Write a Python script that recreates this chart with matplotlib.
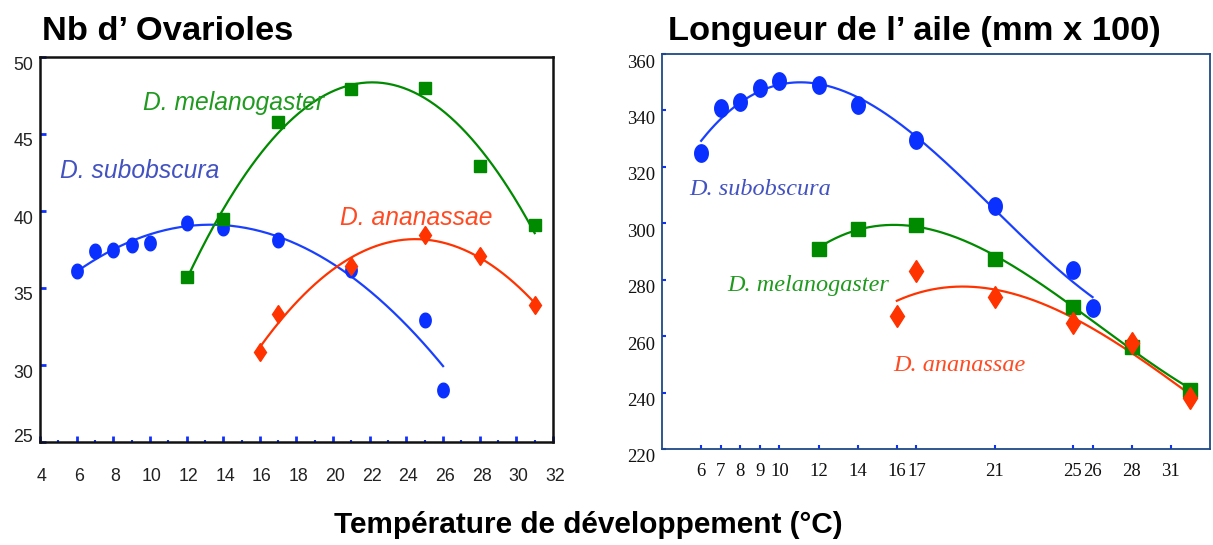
import numpy as np
import matplotlib
matplotlib.use("Agg")
import matplotlib.pyplot as plt
from matplotlib.path import Path
from matplotlib.transforms import ScaledTranslation

# ---------------- data ----------------
# Left panel: number of ovarioles
ov_sub_x = [6, 7, 8, 9, 10, 12, 14, 17, 21, 25, 26]
ov_sub_y = [36.1, 37.4, 37.5, 37.8, 37.9, 39.2, 38.9, 38.1, 36.2, 32.9, 28.35]
ov_mel_x = [12, 14, 17, 21, 25, 28, 31]
ov_mel_y = [35.7, 39.5, 45.8, 47.9, 48.0, 42.9, 39.1]
ov_ana_x = [16, 17, 21, 25, 28, 31]
ov_ana_y = [30.85, 33.3, 36.4, 38.45, 37.1, 33.9]

# Right panel: wing length (mm x 100)
wl_sub_x = [6, 7, 8, 9, 10, 12, 14, 17, 21, 25, 26]
wl_sub_y = [325, 341, 343, 348, 350.5, 349, 342, 329.5, 306, 283.5, 270]
wl_mel_x = [12, 14, 17, 21, 25, 28, 31]
wl_mel_y = [291, 298, 299.5, 287.5, 270.5, 256, 241]
wl_ana_x = [16, 17, 21, 25, 28, 31]
wl_ana_y = [267, 283, 274, 264.5, 257.5, 238]

left_xticks = list(range(4, 33, 2))
left_yticks = [25, 30, 35, 40, 45, 50]
right_xticks = [6, 7, 8, 9, 10, 12, 14, 16, 17, 21, 25, 26, 28, 30]
right_xticklabels = ["6", "7", "8", "9", "10", "12", "14", "16", "17", "21", "25", "26", "28", "31"]
right_yticks = [220, 240, 260, 280, 300, 320, 340, 360]

title_left = "Nb d\u2019 Ovarioles"
title_right = "Longueur de l\u2019 aile (mm x 100)"
xlabel = "Température de développement (°C)"
sp_sub = "D. subobscura"
sp_mel = "D. melanogaster"
sp_ana = "D. ananassae"

# ---------------- style ----------------
SANS = ["Liberation Sans", "DejaVu Sans"]
SERIF = ["Liberation Serif", "DejaVu Serif"]
BLUE_M = "#0a30ff"
BLUE_L = "#1a40ff"
GREEN = "#008a00"
RED = "#ff3300"
TXT_BLUE = "#4252c0"
TXT_GREEN = "#1f9a1f"
TXT_RED = "#ff4a22"

t = np.linspace(0, 2 * np.pi, 60)
ellipse = Path(np.column_stack([0.78 * np.cos(t), np.sin(t)]), closed=True)

W, H = 1213, 545
fig = plt.figure(figsize=(W / 100, H / 100), dpi=100)


def fit_line(ax, xs, ys, deg, color):
    c = np.polyfit(xs, ys, deg)
    xx = np.linspace(min(xs), max(xs), 200)
    ax.plot(xx, np.polyval(c, xx), color=color, lw=1.6, zorder=2)


# ---------------- left panel ----------------
ax1 = fig.add_axes([40 / W, 1 - 442 / H, (553 - 40) / W, (442 - 57) / H])
ax1.set_xlim(4, 32)
ax1.set_ylim(25, 50)
fit_line(ax1, ov_sub_x, ov_sub_y, 2, BLUE_L)
fit_line(ax1, ov_mel_x, ov_mel_y, 2, GREEN)
fit_line(ax1, ov_ana_x, ov_ana_y, 2, RED)
ax1.plot(ov_sub_x, ov_sub_y, ls="none", marker=ellipse, ms=10.5, color=BLUE_M, mec=BLUE_M, zorder=3)
ax1.plot(ov_mel_x, ov_mel_y, ls="none", marker="s", ms=9, color=GREEN, zorder=3)
ax1.plot(ov_ana_x, ov_ana_y, ls="none", marker="d", ms=9.5, color=RED, zorder=3)
ax1.set_xticks(left_xticks)
ax1.set_xticks(range(5, 32, 2), minor=True)
ax1.set_yticks(left_yticks)
ax1.tick_params(axis="both", which="major", direction="in", length=4, width=2,
                color="#1030ff", labelsize=12.8, labelcolor="#222222")
ax1.tick_params(axis="x", which="major", pad=19)
ax1.tick_params(axis="y", which="major", pad=5)
ax1.tick_params(axis="x", which="minor", direction="in", length=1.5, width=1.5, color="#1030ff")
for lab in ax1.get_xticklabels() + ax1.get_yticklabels():
    lab.set_fontfamily(SANS)
for v, lab in zip(left_yticks, ax1.get_yticklabels()):
    dy = 7 if v == 25 else -6
    lab.set_transform(lab.get_transform() + ScaledTranslation(0, dy / 100, fig.dpi_scale_trans))
for lab in ax1.get_xticklabels():
    lab.set_transform(lab.get_transform() + ScaledTranslation(2 / 100, 0, fig.dpi_scale_trans))
for s in ax1.spines.values():
    s.set_color("#111111")
    s.set_linewidth(1.8)
ax1.text(9.62, 47.0, sp_mel, color=TXT_GREEN, fontsize=17.7, style="italic",
         family=SANS, ha="left", va="center")
ax1.text(5.09, 42.6, sp_sub, color=TXT_BLUE, fontsize=17.7, style="italic",
         family=SANS, ha="left", va="center")
ax1.text(20.37, 39.55, sp_ana, color=TXT_RED, fontsize=17.7, style="italic",
         family=SANS, ha="left", va="center")

# ---------------- right panel ----------------
ax2 = fig.add_axes([662 / W, 1 - 449 / H, (1210 - 662) / W, (449 - 54) / H])
ax2.set_xlim(4, 32)
ax2.set_ylim(220, 360)
fit_line(ax2, wl_sub_x, wl_sub_y, 3, BLUE_L)
fit_line(ax2, wl_mel_x, wl_mel_y, 3, GREEN)
fit_line(ax2, wl_ana_x, wl_ana_y, 3, RED)
ax2.plot(wl_sub_x, wl_sub_y, ls="none", marker=ellipse, ms=12.5, color=BLUE_M, mec=BLUE_M, zorder=3)
ax2.plot(wl_mel_x, wl_mel_y, ls="none", marker="s", ms=10, color=GREEN, zorder=3)
ax2.plot(wl_ana_x, wl_ana_y, ls="none", marker="d", ms=11.5, color=RED, zorder=3)
ax2.set_xticks(right_xticks)
ax2.set_xticklabels(right_xticklabels)
ax2.set_yticks(right_yticks)
ax2.tick_params(axis="both", direction="in", length=3, width=1.5, color="#1030ff",
                labelsize=13.5, labelcolor="#111111")
ax2.tick_params(axis="x", pad=10)
ax2.tick_params(axis="y", pad=5)
for lab in ax2.get_xticklabels() + ax2.get_yticklabels():
    lab.set_fontfamily(SERIF)
for lab in ax2.get_yticklabels():
    lab.set_transform(lab.get_transform() + ScaledTranslation(0, -7 / 100, fig.dpi_scale_trans))
for s in ax2.spines.values():
    s.set_color("#1f4a86")
    s.set_linewidth(1.3)
ax2.text(5.41, 311.8, sp_sub, color=TXT_BLUE, fontsize=17.5, style="italic",
         family=SERIF, ha="left", va="center")
ax2.text(7.35, 278.1, sp_mel, color=TXT_GREEN, fontsize=17.5, style="italic",
         family=SERIF, ha="left", va="center")
ax2.text(15.82, 249.7, sp_ana, color=TXT_RED, fontsize=17.5, style="italic",
         family=SERIF, ha="left", va="center")

# ---------------- titles ----------------
fig.text(42 / W, 1 - 40 / H, title_left, fontsize=24.8, fontweight="bold",
         family=SANS, ha="left", va="baseline")
fig.text(668 / W, 1 - 40 / H, title_right, fontsize=24.8, fontweight="bold",
         family=SANS, ha="left", va="baseline")
fig.text(588 / W, 1 - 533 / H, xlabel, fontsize=21.4, fontweight="bold",
         family=SANS, ha="center", va="baseline")

fig.savefig("out.png", dpi=100, facecolor="white")
